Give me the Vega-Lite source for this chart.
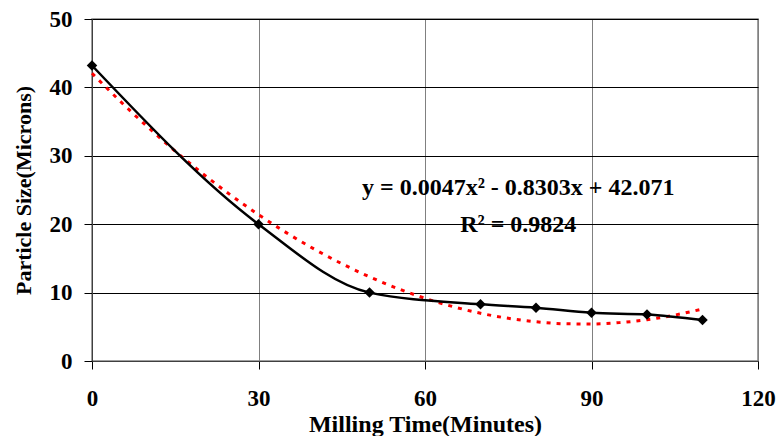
{
  "$schema": "https://vega.github.io/schema/vega-lite/v6.json",
  "autosize": "none",
  "width": 666,
  "height": 342,
  "padding": {"left": 92, "top": 19, "right": 22, "bottom": 75},
  "background": "white",
  "config": {
    "view": {"stroke": "#808080", "strokeWidth": 1.5},
    "axis": {
      "labelFont": "Liberation Serif",
      "labelFontWeight": "bold",
      "labelFontSize": 23,
      "labelColor": "black",
      "labelFlush": false,
      "titleFont": "Liberation Serif",
      "titleFontWeight": "bold",
      "titleColor": "black",
      "tickColor": "black",
      "tickSize": 8,
      "domainColor": "#404040"
    }
  },
  "datasets": {
    "measured": [
      {"time": 0, "size": 43.2},
      {"time": 30, "size": 20.0},
      {"time": 50, "size": 10.0},
      {"time": 70, "size": 8.3},
      {"time": 80, "size": 7.8},
      {"time": 90, "size": 7.05},
      {"time": 100, "size": 6.8},
      {"time": 110, "size": 6.0}
    ],
    "trend": [
      {"time": 0, "size": 42.07},
      {"time": 5, "size": 38.04},
      {"time": 10, "size": 34.24},
      {"time": 15, "size": 30.67},
      {"time": 20, "size": 27.35},
      {"time": 25, "size": 24.25},
      {"time": 30, "size": 21.39},
      {"time": 35, "size": 18.77},
      {"time": 40, "size": 16.38},
      {"time": 45, "size": 14.23},
      {"time": 50, "size": 12.31},
      {"time": 55, "size": 10.62},
      {"time": 60, "size": 9.17},
      {"time": 65, "size": 7.96},
      {"time": 70, "size": 6.98},
      {"time": 75, "size": 6.24},
      {"time": 80, "size": 5.73},
      {"time": 85, "size": 5.45},
      {"time": 90, "size": 5.41},
      {"time": 95, "size": 5.61},
      {"time": 100, "size": 6.04},
      {"time": 105, "size": 6.71},
      {"time": 110, "size": 7.61}
    ],
    "notes": [
      {"time": 76.8, "size": 24.3, "label": "y = 0.0047x² - 0.8303x + 42.071"},
      {"time": 76.8, "size": 18.9, "label": "R² = 0.9824"}
    ]
  },
  "layer": [
    {
      "data": {"name": "trend"},
      "mark": {"type": "line", "color": "#FF0000", "strokeWidth": 3, "strokeDash": [4, 6], "interpolate": "monotone"},
      "encoding": {
        "x": {
          "field": "time", "type": "quantitative",
          "scale": {"domain": [0, 120], "nice": false},
          "axis": {
            "values": [0, 30, 60, 90, 120],
            "title": "Milling Time(Minutes)",
            "titleFontSize": 24,
            "labelPadding": 18,
            "titlePadding": 2,
            "gridColor": "#808080",
            "gridWidth": 1
          }
        },
        "y": {
          "field": "size", "type": "quantitative",
          "scale": {"domain": [0, 50], "nice": false},
          "axis": {
            "values": [0, 10, 20, 30, 40, 50],
            "title": "Particle Size(Microns)",
            "titleFontSize": 22,
            "labelPadding": 12,
            "titlePadding": 14,
            "gridColor": "black",
            "gridWidth": 1
          }
        }
      }
    },
    {
      "data": {"name": "measured"},
      "mark": {"type": "line", "color": "black", "strokeWidth": 2.5, "interpolate": "monotone"},
      "encoding": {
        "x": {"field": "time", "type": "quantitative"},
        "y": {"field": "size", "type": "quantitative"}
      }
    },
    {
      "data": {"name": "measured"},
      "mark": {"type": "point", "shape": "diamond", "filled": true, "color": "black", "size": 110, "opacity": 1},
      "encoding": {
        "x": {"field": "time", "type": "quantitative"},
        "y": {"field": "size", "type": "quantitative"}
      }
    },
    {
      "data": {"name": "notes"},
      "mark": {"type": "text", "font": "Liberation Serif", "fontWeight": "bold", "fontSize": 24, "color": "black", "align": "center", "baseline": "alphabetic"},
      "encoding": {
        "x": {"field": "time", "type": "quantitative"},
        "y": {"field": "size", "type": "quantitative"},
        "text": {"field": "label"}
      }
    }
  ]
}
